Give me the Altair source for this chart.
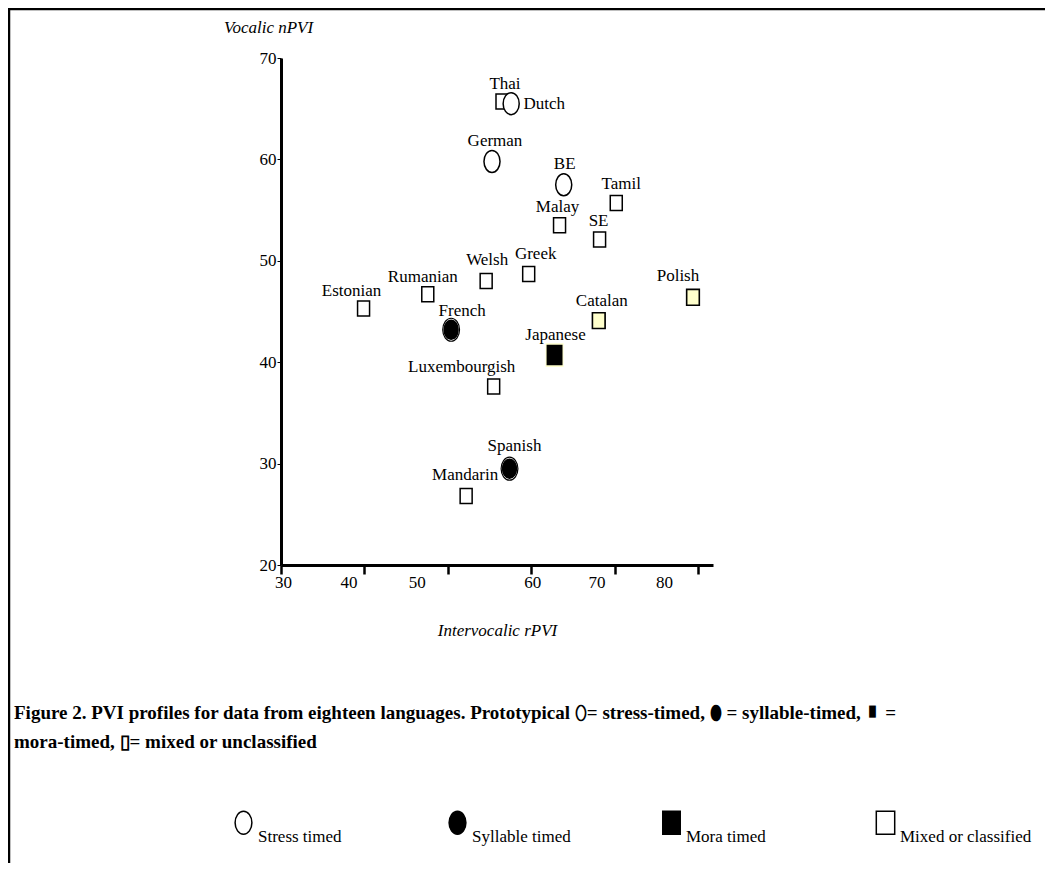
import altair as alt
import pandas as pd

# ---------------- data ----------------
languages = ["Thai", "Dutch", "German", "BE", "Tamil", "Malay", "SE", "Greek", "Welsh",
             "Rumanian", "Estonian", "French", "Polish", "Catalan", "Japanese",
             "Luxembourgish", "Spanish", "Mandarin"]
intervocalic_rpvi = [56.5, 57.6, 55.3, 63.9, 70.2, 63.4, 68.2, 59.7, 54.6,
                     47.6, 39.9, 50.4, 79.4, 68.1, 62.8, 55.5, 57.4, 52.2]
vocalic_npvi = [65.7, 65.5, 59.8, 57.5, 55.7, 53.5, 52.1, 48.7, 48.0,
                46.7, 45.3, 43.2, 46.4, 44.1, 40.7, 37.6, 29.5, 26.8]
rhythm_class = ["Mixed or classified", "Stress timed", "Stress timed", "Stress timed",
                "Mixed or classified", "Mixed or classified", "Mixed or classified",
                "Mixed or classified", "Mixed or classified", "Mixed or classified",
                "Mixed or classified", "Syllable timed", "Mixed or classified",
                "Mixed or classified", "Mora timed", "Mixed or classified",
                "Syllable timed", "Mixed or classified"]
shaded_languages = ["Polish", "Catalan"]

class_order = ["Stress timed", "Syllable timed", "Mora timed", "Mixed or classified"]
x_ticks = [30, 40, 50, 60, 70, 80]
y_ticks = [20, 30, 40, 50, 60, 70]

caption_lines = [
    "Figure 2. PVI profiles for data from eighteen languages. Prototypical \u2B2F= stress-timed,  \u2B2E = syllable-timed, \u25AE =",
    "mora-timed, \u25AF= mixed or unclassified",
]

# ---------------- styling (pixel nudges and marker sizes, not data) ----------------
LABEL_NUDGE = {
    "Thai": (3, -18), "Dutch": (33, 0), "German": (3, -20), "BE": (1, -21),
    "Tamil": (5, -19), "Malay": (-2, -18), "SE": (-1, -19), "Greek": (7, -20),
    "Welsh": (1, -21), "Rumanian": (-5, -17), "Estonian": (-12, -17),
    "French": (11, -19), "Polish": (-15, -21), "Catalan": (3, -20),
    "Japanese": (1, -20), "Luxembourgish": (-32, -20), "Spanish": (5, -23),
    "Mandarin": (-1, -21),
}
X_LABEL_SHIFT = {30: 2, 40: -16, 50: -31, 60: 1, 70: -18, 80: -34}
CLASS_SIZE = {"Stress timed": 484, "Syllable timed": 361, "Mora timed": 361,
              "Mixed or classified": 225}

W, H = 432, 507
X_DOMAIN = [30, 81.8]
Y_DOMAIN = [20, 70]
PX_X = W / (X_DOMAIN[1] - X_DOMAIN[0])
PX_Y = H / (Y_DOMAIN[1] - Y_DOMAIN[0])

SERIF = "Liberation Serif"
ELLIPSE = "M0,-1A0.73,1 0 1,1 0,1A0.73,1 0 1,1 0,-1Z"
RECT_MORA = "M-0.76,-1H0.76V1H-0.76Z"
RECT_MIXED = "M-0.8,-1H0.8V1H-0.8Z"

df = pd.DataFrame({
    "language": languages,
    "rpvi": intervocalic_rpvi,
    "npvi": vocalic_npvi,
    "cls": rhythm_class,
})
df["label_x"] = [x + LABEL_NUDGE[l][0] / PX_X for l, x in zip(languages, intervocalic_rpvi)]
df["label_y"] = [y - LABEL_NUDGE[l][1] / PX_Y for l, y in zip(languages, vocalic_npvi)]
df["msize"] = [CLASS_SIZE[c] for c in rhythm_class]
df["shaded"] = df["language"].isin(shaded_languages)

x_scale = alt.Scale(domain=X_DOMAIN, nice=False, zero=False)
y_scale = alt.Scale(domain=Y_DOMAIN, nice=False, zero=False)

x_axis = alt.Axis(
    values=x_ticks, grid=False, title="Intervocalic rPVI",
    titleFont=SERIF, titleFontSize=17, titleFontStyle="italic", titleFontWeight="normal",
    titleColor="black", titleY=65, titleBaseline="middle",
    labelFont=SERIF, labelFontSize=17, labelColor="black", labelPadding=0,
    labelFlush=False,
    labelOffset={"condition": [{"test": f"datum.value == {v}", "value": s}
                               for v, s in X_LABEL_SHIFT.items()], "value": 0},
    domainColor="black", domainWidth=3, tickColor="black", tickWidth=2.5, tickSize=9,
)
y_axis = alt.Axis(
    values=y_ticks, grid=False, title="Vocalic nPVI",
    titleFont=SERIF, titleFontSize=17, titleFontStyle="italic", titleFontWeight="normal",
    titleColor="black", titleAngle=0, titleX=-13, titleY=-31,
    titleAlign="center", titleBaseline="middle",
    labelFont=SERIF, labelFontSize=17, labelColor="black", labelPadding=1,
    domainColor="black", domainWidth=3, tickColor="black", tickWidth=1, tickSize=4,
)

base = alt.Chart(df)
X = alt.X("rpvi:Q", scale=x_scale, axis=x_axis)
Y = alt.Y("npvi:Q", scale=y_scale, axis=y_axis)

legend = alt.Legend(
    title=None, orient="none", legendX=-50, legendY=752, direction="horizontal",
    columns=4, gridAlign="all", columnPadding=55,
    symbolSize=529, symbolStrokeWidth=1.5,
    labelFont=SERIF, labelFontSize=17, labelColor="black", labelOffset=2,
    labelBaseline="alphabetic", labelExpr="['', datum.label]", labelLimit=300,
)

one = pd.DataFrame({"k": [0]})
border_left = alt.Chart(one).mark_rule(color="black", strokeWidth=2.5).encode(
    x=alt.value(-272), y=alt.value(-52), y2=alt.value(900))
border_top = alt.Chart(one).mark_rule(color="black", strokeWidth=2.5).encode(
    x=alt.value(-274), x2=alt.value(1000), y=alt.value(-49))

mora_halo = base.transform_filter(alt.datum.cls == "Mora timed").mark_point(
    shape=RECT_MORA, size=560, filled=True, fill="#ffffcc", strokeWidth=0, opacity=1
).encode(x=X, y=Y)

syll_ring = base.transform_filter(alt.datum.cls == "Syllable timed").mark_point(
    shape=ELLIPSE, size=529, filled=True, fill="white", stroke="black",
    strokeWidth=1.2, opacity=1
).encode(x=X, y=Y)

main = base.mark_point(filled=True, strokeWidth=1.5, opacity=1).encode(
    x=X, y=Y,
    shape=alt.Shape("cls:N", scale=alt.Scale(domain=class_order,
                                             range=[ELLIPSE, ELLIPSE, RECT_MORA, RECT_MIXED]),
                    legend=legend),
    fill=alt.Fill("cls:N", scale=alt.Scale(domain=class_order,
                                           range=["white", "black", "black", "white"]),
                  legend=legend),
    stroke=alt.Stroke("cls:N", scale=alt.Scale(domain=class_order,
                                               range=["black", "black", "black", "black"]),
                      legend=legend),
    size=alt.Size("msize:Q", scale=None, legend=None),
)

shaded = base.transform_filter(alt.datum.shaded).mark_point(
    shape=RECT_MIXED, size=250, filled=True, fill="#ffffcc", stroke="black",
    strokeWidth=1.6, opacity=1
).encode(x=X, y=Y)

labels = base.mark_text(font=SERIF, fontSize=17, color="black", baseline="middle",
                        align="center").encode(
    x=alt.X("label_x:Q", scale=x_scale, axis=x_axis),
    y=alt.Y("label_y:Q", scale=y_scale, axis=y_axis),
    text="language:N",
)

caption = alt.Chart(one).mark_text(
    text=caption_lines, font=SERIF, fontSize=19, fontWeight="bold", color="black",
    align="left", baseline="alphabetic", lineHeight=29,
).encode(x=alt.value(-267), y=alt.value(661))

chart = alt.layer(
    border_left, border_top, mora_halo, syll_ring, main, shaded, labels, caption
).properties(
    width=W, height=H,
    padding={"left": 273, "top": 50, "right": 332, "bottom": 298},
    autosize=alt.AutoSizeParams(type="none"),
    background="white",
).configure_view(stroke="transparent", strokeWidth=0)

chart.save("out.html", embed_options={"renderer": "svg", "actions": False})
